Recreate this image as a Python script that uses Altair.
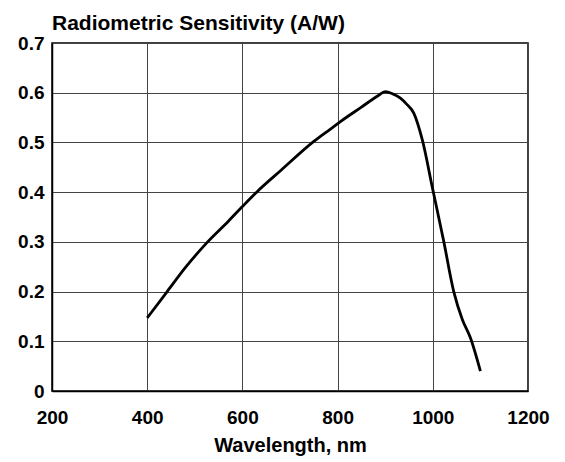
import altair as alt
import pandas as pd

wavelength = [400, 442, 480, 526, 570, 600, 631, 680, 750, 785, 806, 850, 885, 900,
              915, 932, 945, 960, 978, 1000, 1023, 1044, 1062, 1079, 1100]
sensitivity = [0.147, 0.200, 0.248, 0.299, 0.341, 0.371, 0.401, 0.443, 0.502, 0.527,
               0.542, 0.571, 0.594, 0.602, 0.598, 0.589, 0.577, 0.559, 0.505, 0.405,
               0.301, 0.200, 0.144, 0.107, 0.040]
x_ticks = [200, 400, 600, 800, 1000, 1200]
y_ticks = [0, 0.1, 0.2, 0.3, 0.4, 0.5, 0.6, 0.7]

df = pd.DataFrame({"wl": wavelength, "s": sensitivity})

FONT = "Liberation Sans"

chart = alt.Chart(df).mark_line(
    color="black", strokeWidth=2.8, interpolate="monotone"
).encode(
    x=alt.X("wl:Q", scale=alt.Scale(domain=[200, 1200], nice=False),
            axis=alt.Axis(values=x_ticks, title="Wavelength, nm", format="d",
                          labelPadding=17, titlePadding=8, labelFlush=False)),
    y=alt.Y("s:Q", scale=alt.Scale(domain=[0, 0.7], nice=False),
            axis=alt.Axis(values=y_ticks, title=None, format=".1~f",
                          labelPadding=8, labelFlush=False)),
).properties(
    width=476, height=348,
    title=alt.TitleParams("Radiometric Sensitivity (A/W)", anchor="start", frame="group",
                          font=FONT, fontSize=21, fontWeight="bold",
                          color="black", offset=0),
    padding={"left": 9, "top": 5, "right": 5, "bottom": 5},
).configure_view(
    stroke="black", strokeWidth=1.5
).configure_axis(
    ticks=False, grid=True, gridColor="#444", gridWidth=1, gridOpacity=1,
    domainColor="black", domainWidth=1.5,
    labelFont=FONT, labelFontSize=19, labelFontWeight="bold", labelColor="black",
    titleFont=FONT, titleFontSize=20, titleFontWeight="bold", titleColor="black",
)

chart.save("out.html", embed_options={"renderer": "svg", "actions": False})
